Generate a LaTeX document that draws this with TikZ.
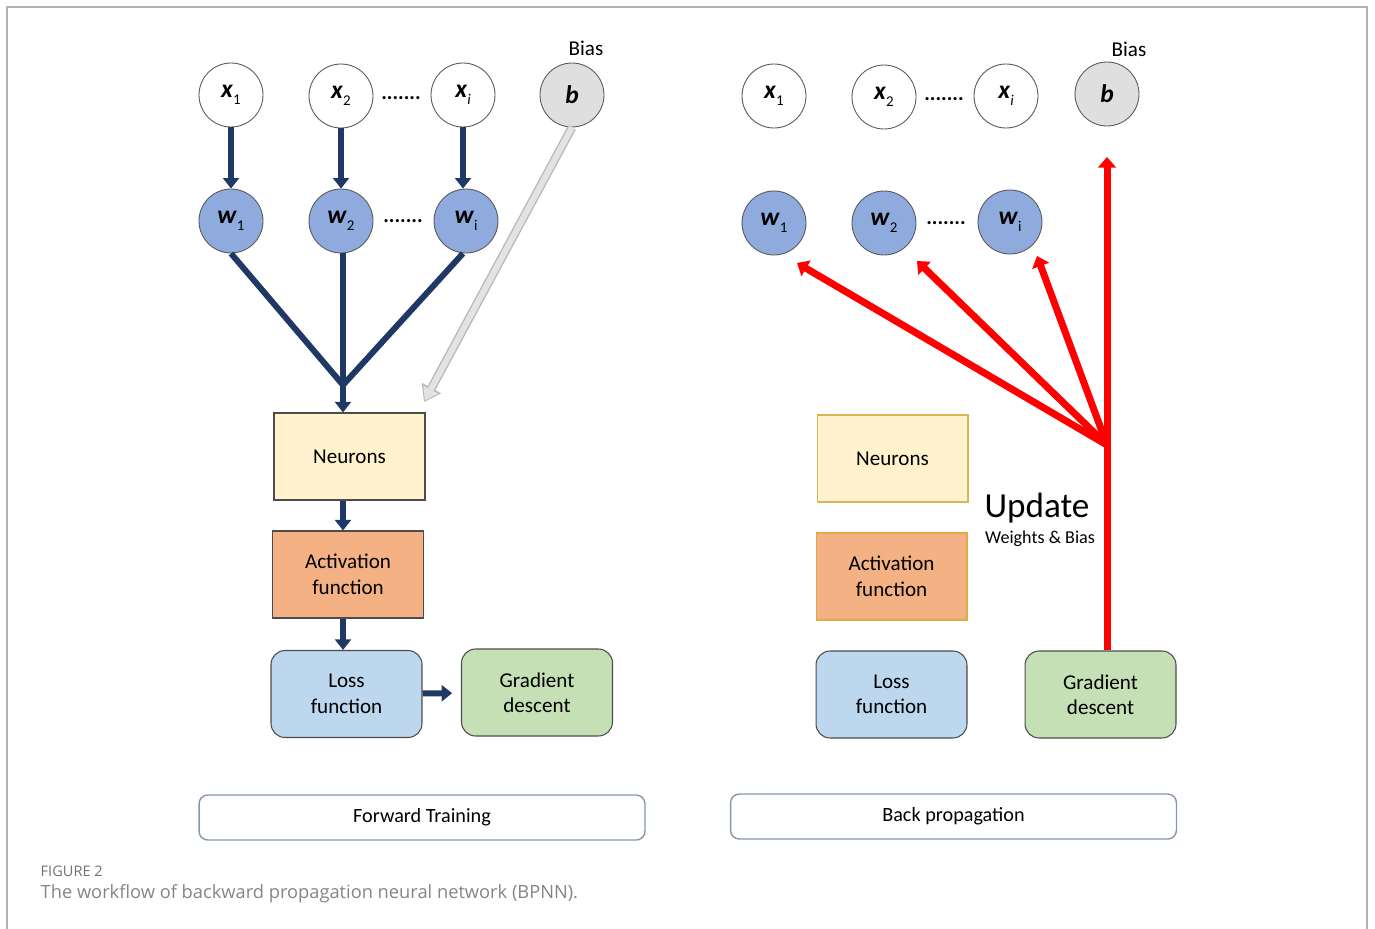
\documentclass[tikz,border=0pt]{standalone}
\usepackage{fontspec}
\setmainfont{Carlito}
\newfontfamily\captionfont{Open Sans}
\usetikzlibrary{arrows.meta}
\usetikzlibrary{positioning}

\definecolor{navy}{HTML}{1F3864}
\definecolor{wblue}{HTML}{8FAADC}
\definecolor{neuyellow}{HTML}{FFF2CC}
\definecolor{actorange}{HTML}{F4B183}
\definecolor{lossblue}{HTML}{BDD7EE}
\definecolor{gradgreen}{HTML}{C5E0B4}
\definecolor{tagborder}{HTML}{8497B0}
\definecolor{goldborder}{HTML}{D6B656}
\definecolor{capgray}{HTML}{6F7073}

\newcommand{\nv}[2]{\textbf{\textit{#1}}\raisebox{-0.55ex}{\fontsize{8.5}{9}\selectfont #2}}

\begin{document}
\begin{tikzpicture}[x=0.02cm,y=-0.02cm,thick]
    \tikzstyle{inp}=[circle,draw=gray!70!black,fill=white,line width=0.5pt,minimum size=1.28cm,inner sep=0pt,font=\fontsize{14.5}{16}\selectfont]
    \tikzstyle{wgt}=[inp,fill=wblue]
    \tikzstyle{bias}=[inp,fill=gray!25]
    \tikzstyle{block}=[draw=gray!60!black,line width=0.6pt,minimum width=3.02cm,minimum height=1.74cm,align=center,font=\fontsize{12}{14.5}\selectfont]
    \tikzstyle{rblock}=[block,rounded corners=8pt]
    \tikzstyle{tag}=[draw=tagborder,rounded corners=5pt,line width=0.8pt,minimum width=8.92cm,minimum height=0.9cm,font=\fontsize{11.5}{14}\selectfont]
    \tikzstyle{dots}=[inner sep=0pt,font=\bfseries\fontsize{12}{14}\selectfont]
    \tikzstyle{link}=[navy,line width=3.4pt]
    \tikzstyle{fwd}=[link,-{Triangle[length=6pt,width=9pt]}]
    \tikzstyle{back}=[red,line width=4pt,-{Triangle[length=6pt,width=10pt]}]

    \useasboundingbox (0,0) rectangle (1375,929);
    \draw[gray!60,line width=1.1pt] (7,929) -- (7,7) -- (1367,7) -- (1367,929);

    % forward training
    \node[inp]  (x1) at (231,95)  {\nv{x}{1}};
    \node[inp]  (x2) at (341,96)  {\nv{x}{2}};
    \node[inp]  (xi) at (463,95)  {\nv{x}{\textit{i}}};
    \node[bias] (b)  at (572,95)  {\textbf{\textit{b}}};
    \node (biasl) at (586,48) {\fontsize{12}{14}\selectfont Bias};
    \node[dots] (dx) at (401,98) {.......};

    \node[wgt] (w1) at (231,221) {\nv{w}{1}};
    \node[wgt] (w2) at (341,221) {\nv{w}{2}};
    \node[wgt] (wi) at (466,221) {\nv{w}{i}};
    \node[dots] (dw) at (403,221) {.......};

    \node[block,fill=neuyellow] (neu) at (349.5,456.5) {Neurons};
    \node[block,fill=actorange] (act) at (348,574.5) {Activation\\function};
    \node[rblock,fill=lossblue] (loss) at (346.5,694) {Loss\\function};
    \node[rblock,fill=gradgreen] (grad) at (537,692.5) {Gradient\\descent};

    \coordinate (jl) at (343,385);
    \coordinate (bt) at (424,402);

    \draw[fwd] (x1) -- (w1);
    \draw[fwd] (x2) -- (w2);
    \draw[fwd] (xi) -- (xi |- wi.north);
    \draw[link] (w1.south) -- (jl);
    \draw[link] (w2.south -| jl) -- (jl);
    \draw[link] ([xshift=-0.06cm]wi.south) -- (jl);
    \draw[fwd] (jl) -- (jl |- neu.north);
    \draw[fwd] (neu.south -| jl) -- (act.north -| jl);
    \draw[fwd] (act.south -| jl) -- (loss.north -| jl);
    \draw[fwd,shorten >=5pt] (loss) -- (grad);
    \draw[gray!55,line width=5pt,-{Triangle[length=9pt,width=12pt]}] (b.south) -- (bt);
    \draw[gray!22,line width=3.4pt,shorten >=1pt,-{Triangle[length=7pt,width=9pt]}] (b.south) -- (bt);

    % back propagation
    \node[inp]  (x1r) at (774,96)  {\nv{x}{1}};
    \node[inp]  (x2r) at (884,97)  {\nv{x}{2}};
    \node[inp]  (xir) at (1006,96) {\nv{x}{\textit{i}}};
    \node[bias] (br)  at (1107,94) {\textbf{\textit{b}}};
    \node (biasr) at (1129,49) {\fontsize{12}{14}\selectfont Bias};
    \node[dots] (dxr) at (944,99) {.......};

    \node[wgt] (w1r) at (774,223)  {\nv{w}{1}};
    \node[wgt] (w2r) at (884,223)  {\nv{w}{2}};
    \node[wgt] (wir) at (1010,222) {\nv{w}{i}};
    \node[dots] (dwr) at (946,223) {.......};

    \node[block,draw=goldborder,fill=neuyellow] (neur) at (892.5,458.5) {Neurons};
    \node[block,draw=goldborder!80!orange,fill=actorange] (actr) at (891.5,576.5) {Activation\\function};
    \node[rblock,draw=gray!60!black,fill=lossblue] (lossr) at (891.5,694.5) {Loss\\function};
    \node[rblock,draw=gray!60!black,fill=gradgreen] (gradr) at (1100.5,694.5) {Gradient\\descent};

    \node (upd) at (1037,508) {\fontsize{20}{23}\selectfont Update};
    \node (updsub) at (1040,539) {\fontsize{10.3}{12}\selectfont Weights \& Bias};

    \coordinate (jr) at (1107,445);
    \coordinate (tb) at (1107,157);
    \coordinate (tw1) at (797,263);
    \coordinate (tw2) at (917,261);
    \coordinate (twi) at (1037,256);

    \draw[back] (jr |- gradr.north) -- (tb);
    \draw[back] (jr) -- (tw1);
    \draw[back] (jr) -- (tw2);
    \draw[back] (jr) -- (twi);

    % tags and caption
    \node[tag] (ftag) at (422,817.5) {Forward Training};
    \node[tag] (btag) at (953.5,816.5) {Back propagation};
    \node[anchor=west,inner sep=0pt,text=capgray] (fig) at (40,871) {\captionfont\fontsize{8.3}{10}\selectfont FIGURE 2};
    \node[anchor=west,inner sep=0pt,text=capgray!85] (cap) at (40,894) {\captionfont\fontsize{10.4}{12}\selectfont The workflow of backward propagation neural network (BPNN).};
\end{tikzpicture}
\end{document}
